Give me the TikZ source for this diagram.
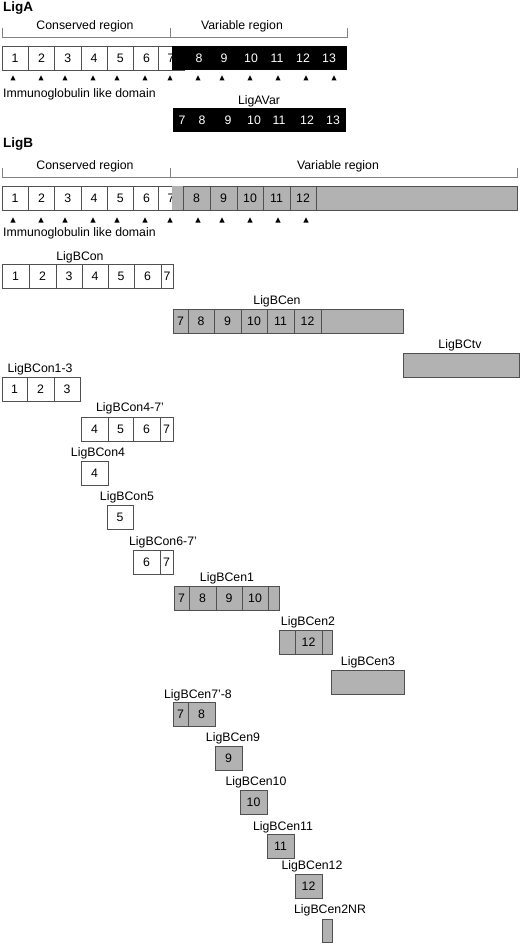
\documentclass[tikz,border=0pt]{standalone}
\usepackage{fontspec}
\setmainfont{Liberation Sans}
\newcommand\fs{\fontsize{12.3}{14}\selectfont}
\definecolor{ligGray}{RGB}{178,178,178}
\definecolor{cellline}{RGB}{80,80,80}
\definecolor{brk}{RGB}{130,130,130}
\tikzset{
  cell/.style={draw=cellline, line width=0.8pt, inner sep=0pt, outer sep=0pt, anchor=north west,
    minimum height=24pt, font=\fs, text height=8.6pt, text depth=0pt},
  wcell/.style={cell, fill=white},
  gcell/.style={cell, fill=ligGray},
  bcell/.style={fill=black, inner sep=0pt, outer sep=0pt, anchor=north west, minimum height=24pt},
  wnum/.style={font=\fs, text=white, inner sep=0pt, text height=8.6pt, text depth=0pt},
  lab/.style={font=\fs, inner sep=0pt, text height=8.6pt, text depth=0pt},
  ttl/.style={font=\fontsize{13.5}{15}\selectfont\bfseries, inner sep=0pt, anchor=west, text height=9.6pt, text depth=0pt},
  brkline/.style={draw=brk, line width=0.8pt},
  tri/.style={fill=black},
}
\begin{document}
\begin{tikzpicture}[x=1pt,y=-1pt]
\useasboundingbox (0,0) rectangle (520,944);

% ---------------- LigA ----------------
\node[ttl] (titA) at (3,7) {LigA};
\node[lab] (consA) at (85,25) {Conserved region};
\node[lab] (varA) at (242,25) {Variable region};
\coordinate (bA1) at (2,37); \coordinate (bA2) at (170,37); \coordinate (bA3) at (347,37);
\draw[brkline] ([yshift=9]bA1) -- (bA1) -- (bA3) -- ([yshift=9]bA3);
\draw[brkline] (bA2) -- ([yshift=9]bA2);

\node[wcell, minimum width=26.3] (a1) at (2,46) {1};
\node[wcell, minimum width=26.3] (a2) at (28.3,46) {2};
\node[wcell, minimum width=26.3] (a3) at (54.6,46) {3};
\node[wcell, minimum width=26.3] (a4) at (80.9,46) {4};
\node[wcell, minimum width=26.3] (a5) at (107.2,46) {5};
\node[wcell, minimum width=26.3] (a6) at (133.5,46) {6};
\node[wcell, minimum width=26.3] (a7) at (158,46) {7};
\node[bcell, minimum width=175] (aV) at (172,46) {};
\foreach \x/\t/\n in {199/8/a8,224/9/a9,251/10/a10,277/11/a11,303/12/a12,329/13/a13}
  \node[wnum] (\n) at (\x,58.5) {\t};
\foreach \x in {13,41,65,93,117,145,170,198,222,250,278,306,334}
  \fill[tri] (\x-2.6,80.5) -- (\x+2.6,80.5) -- (\x,75.3) -- cycle;
\node[lab, anchor=west] (igA) at (3,93) {Immunoglobulin like domain};

\node[lab] (ligavarL) at (259,100) {LigAVar};
\node[bcell, minimum width=173] (ligavar) at (173,108) {};
\foreach \x/\t/\n in {182/7/v7,202/8/v8,228/9/v9,254/10/v10,279/11/v11,307/12/v12,333/13/v13}
  \node[wnum] (\n) at (\x,120) {\t};

% ---------------- LigB ----------------
\node[ttl] (titB) at (3,143) {LigB};
\node[lab] (consB) at (85,165) {Conserved region};
\node[lab] (varB) at (338,165) {Variable region};
\coordinate (bB1) at (2,177); \coordinate (bB2) at (170,177); \coordinate (bB3) at (517,177);
\draw[brkline] ([yshift=9]bB1) -- (bB1) -- (bB3) -- ([yshift=9]bB3);
\draw[brkline] (bB2) -- ([yshift=9]bB2);

\node[wcell, minimum width=26.3] (b1) at (2,186) {1};
\node[wcell, minimum width=26.3] (b2) at (28.3,186) {2};
\node[wcell, minimum width=26.3] (b3) at (54.6,186) {3};
\node[wcell, minimum width=26.3] (b4) at (80.9,186) {4};
\node[wcell, minimum width=26.3] (b5) at (107.2,186) {5};
\node[wcell, minimum width=26.3] (b6) at (133.5,186) {6};
\node[wcell, minimum width=26.3] (b7) at (158,186) {7};
\node[gcell, minimum width=11, draw=none] (b7p) at (172,186) {};
\node[gcell, minimum width=27] (b8) at (183,186) {8};
\node[gcell, minimum width=27] (b9) at (210,186) {9};
\node[gcell, minimum width=26] (b10) at (237,186) {10};
\node[gcell, minimum width=27] (b11) at (263,186) {11};
\node[gcell, minimum width=26] (b12) at (290,186) {12};
\node[gcell, minimum width=201] (brest) at (316,186) {};
\draw[draw=cellline, line width=0.8pt] (b7.north east) -- (brest.north east) -- (brest.south east) -- (b7.south east);
\foreach \x in {13,41,65,93,117,145,170,198,222,250,278,306}
  \fill[tri] (\x-2.6,222.5) -- (\x+2.6,222.5) -- (\x,217.3) -- cycle;
\node[lab, anchor=west] (igB) at (3,232) {Immunoglobulin like domain};

% LigBCon
\node[lab] (conL) at (80,256) {LigBCon};
\node[wcell, minimum width=27] (c1) at (2,264) {1};
\node[wcell, minimum width=27] (c2) at (29,264) {2};
\node[wcell, minimum width=26] (c3) at (56,264) {3};
\node[wcell, minimum width=26] (c4) at (82,264) {4};
\node[wcell, minimum width=26] (c5) at (108,264) {5};
\node[wcell, minimum width=27] (c6) at (134,264) {6};
\node[wcell, minimum width=12] (c7) at (161,264) {7};

% LigBCen
\node[lab] (cenL) at (277,300) {LigBCen};
\node[gcell, minimum width=15] (e7) at (173,309) {7};
\node[gcell, minimum width=26] (e8) at (188,309) {8};
\node[gcell, minimum width=27] (e9) at (214,309) {9};
\node[gcell, minimum width=26] (e10) at (241,309) {10};
\node[gcell, minimum width=27] (e11) at (267,309) {11};
\node[gcell, minimum width=27] (e12) at (294,309) {12};
\node[gcell, minimum width=82] (erest) at (321,309) {};

% LigBCtv
\node[lab] (ctvL) at (460,344) {LigBCtv};
\node[gcell, minimum width=116] (ctv) at (403,353) {};

% LigBCon1-3
\node[lab] (c13L) at (40,368) {LigBCon1-3};
\node[wcell, minimum width=25] (f1) at (2,377) {1};
\node[wcell, minimum width=27] (f2) at (27,377) {2};
\node[wcell, minimum width=26] (f3) at (54,377) {3};

% LigBCon4-7'
\node[lab] (c47L) at (130,407) {LigBCon4-7'};
\node[wcell, minimum width=27] (g4) at (81,417) {4};
\node[wcell, minimum width=25] (g5) at (108,417) {5};
\node[wcell, minimum width=27] (g6) at (133,417) {6};
\node[wcell, minimum width=13] (g7) at (160,417) {7};

% LigBCon4
\node[lab] (c4L) at (98,452) {LigBCon4};
\node[wcell, minimum width=27] (h4) at (81,461) {4};

% LigBCon5
\node[lab] (c5L) at (127,496) {LigBCon5};
\node[wcell, minimum width=26] (i5) at (107,505) {5};

% LigBCon6-7'
\node[lab] (c67L) at (163,541) {LigBCon6-7'};
\node[wcell, minimum width=27] (j6) at (133,550) {6};
\node[wcell, minimum width=13] (j7) at (160,550) {7};

% LigBCen1
\node[lab] (e1L) at (227,577) {LigBCen1};
\node[gcell, minimum width=15] (k7) at (174,586) {7};
\node[gcell, minimum width=27] (k8) at (189,586) {8};
\node[gcell, minimum width=26] (k9) at (216,586) {9};
\node[gcell, minimum width=26] (k10) at (242,586) {10};
\node[gcell, minimum width=11] (k11) at (268,586) {};

% LigBCen2
\node[lab] (e2L) at (308,621) {LigBCen2};
\node[gcell, minimum width=16] (l11) at (279,630) {};
\node[gcell, minimum width=27] (l12) at (295,630) {12};
\node[gcell, minimum width=10] (l13) at (322,630) {};

% LigBCen3
\node[lab] (e3L) at (368,661) {LigBCen3};
\node[gcell, minimum width=73] (m) at (331,670) {};

% LigBCen7'-8
\node[lab] (e78L) at (198,694) {LigBCen7'-8};
\node[gcell, minimum width=15] (n7) at (173,702) {7};
\node[gcell, minimum width=27] (n8) at (188,702) {8};

% LigBCen9
\node[lab] (e9L) at (233,737) {LigBCen9};
\node[gcell, minimum width=27] (o9) at (215,746) {9};

% LigBCen10
\node[lab] (e10L) at (256,781) {LigBCen10};
\node[gcell, minimum width=27] (p10) at (240,790) {10};

% LigBCen11
\node[lab] (e11L) at (283,826) {LigBCen11};
\node[gcell, minimum width=27] (q11) at (267,834) {11};

% LigBCen12
\node[lab] (e12L) at (312,865) {LigBCen12};
\node[gcell, minimum width=27] (r12) at (295,874) {12};

% LigBCen2NR
\node[lab] (e2nrL) at (330,909) {LigBCen2NR};
\node[gcell, minimum width=10, minimum height=23] (s) at (322,919) {};
\end{tikzpicture}
\end{document}
